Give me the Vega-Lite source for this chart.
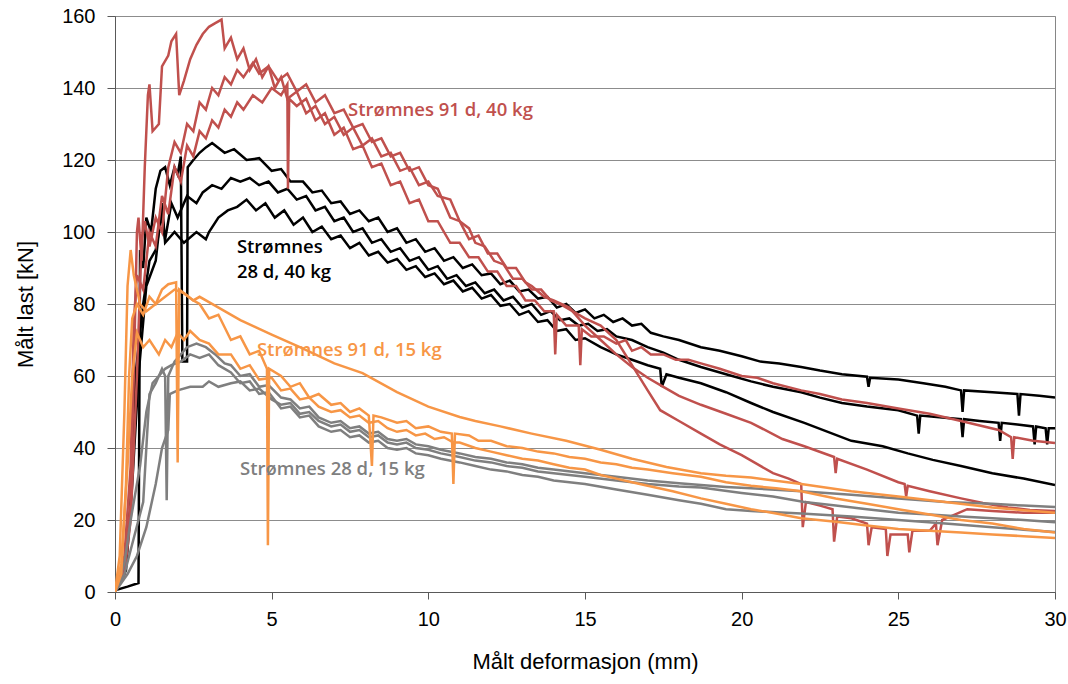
{
"$schema":"https://vega.github.io/schema/vega-lite/v6.json",
"width":940,"height":576,"autosize":"none",
"padding":{"left":115,"top":16,"right":13,"bottom":92},
"background":"white",
"config":{"view":{"stroke":"#868686","strokeWidth":1},
"axis":{"domainColor":"#595959","tickColor":"#595959","gridColor":"#8c8c8c","gridWidth":1,"labelFont":"Liberation Sans","labelFontSize":20,"labelColor":"#000000","titleFont":"Liberation Sans","titleFontSize":22,"titleFontWeight":"normal","titleColor":"#000000"}},
"layer":[
{"data":{"values":[
{"s":"B1","x":0,"y":0.5},{"s":"B1","x":0.4,"y":1.5},{"s":"B1","x":0.75,"y":2.5},{"s":"B1","x":0.8,"y":95},{"s":"B1","x":0.9,"y":90},{"s":"B1","x":1.0,"y":104},{"s":"B1","x":1.15,"y":100},{"s":"B1","x":1.3,"y":112},{"s":"B1","x":1.45,"y":117},{"s":"B1","x":1.6,"y":118},{"s":"B1","x":1.75,"y":113},{"s":"B1","x":1.9,"y":118},{"s":"B1","x":2.0,"y":116},{"s":"B1","x":2.1,"y":121},{"s":"B1","x":2.15,"y":64},{"s":"B1","x":2.3,"y":64},{"s":"B1","x":2.32,"y":118},{"s":"B1","x":2.5,"y":120},{"s":"B1","x":2.7,"y":122},{"s":"B1","x":2.9,"y":123.5},{"s":"B1","x":3.1,"y":124.7},{"s":"B1","x":3.5,"y":122},{"s":"B1","x":3.8,"y":123},{"s":"B1","x":4.2,"y":120},{"s":"B1","x":4.6,"y":120.5},{"s":"B1","x":5.0,"y":117},{"s":"B1","x":5.3,"y":117.5},{"s":"B1","x":5.6,"y":114},{"s":"B1","x":6.0,"y":114},{"s":"B1","x":6.3,"y":111},{"s":"B1","x":6.6,"y":111.5},{"s":"B1","x":6.9,"y":108},{"s":"B1","x":7.2,"y":108.5},{"s":"B1","x":7.5,"y":105},{"s":"B1","x":7.8,"y":106},{"s":"B1","x":8.1,"y":103},{"s":"B1","x":8.4,"y":104},{"s":"B1","x":8.7,"y":100},{"s":"B1","x":9.0,"y":101},{"s":"B1","x":9.3,"y":97},{"s":"B1","x":9.6,"y":98},{"s":"B1","x":9.9,"y":94.5},{"s":"B1","x":10.2,"y":95.5},{"s":"B1","x":10.5,"y":92},{"s":"B1","x":10.8,"y":93},{"s":"B1","x":11.1,"y":90},{"s":"B1","x":11.4,"y":91},{"s":"B1","x":11.7,"y":88},{"s":"B1","x":12.0,"y":88.5},{"s":"B1","x":12.3,"y":85.5},{"s":"B1","x":12.6,"y":86.5},{"s":"B1","x":12.9,"y":83.5},{"s":"B1","x":13.2,"y":84},{"s":"B1","x":13.5,"y":81.5},{"s":"B1","x":13.8,"y":82},{"s":"B1","x":14.1,"y":79},{"s":"B1","x":14.4,"y":80},{"s":"B1","x":14.7,"y":77.5},{"s":"B1","x":15.0,"y":78.5},{"s":"B1","x":15.3,"y":76},{"s":"B1","x":15.6,"y":77},{"s":"B1","x":15.9,"y":75},{"s":"B1","x":16.2,"y":76},{"s":"B1","x":16.5,"y":74},{"s":"B1","x":16.8,"y":74.5},{"s":"B1","x":17.1,"y":72},{"s":"B1","x":17.5,"y":71},{"s":"B1","x":18.0,"y":70},{"s":"B1","x":18.7,"y":68},{"s":"B1","x":19.3,"y":67},{"s":"B1","x":20.0,"y":65.5},{"s":"B1","x":20.6,"y":64},{"s":"B1","x":21.2,"y":63.5},{"s":"B1","x":21.9,"y":62.5},{"s":"B1","x":22.5,"y":61.5},{"s":"B1","x":23.2,"y":60.5},{"s":"B1","x":24.0,"y":59.8},{"s":"B1","x":24.05,"y":57},{"s":"B1","x":24.1,"y":59.5},{"s":"B1","x":25.0,"y":59},{"s":"B1","x":25.8,"y":58},{"s":"B1","x":26.5,"y":57},{"s":"B1","x":27.0,"y":56},{"s":"B1","x":27.05,"y":50},{"s":"B1","x":27.1,"y":56},{"s":"B1","x":28.0,"y":55.5},{"s":"B1","x":28.8,"y":55},{"s":"B1","x":28.85,"y":49},{"s":"B1","x":28.9,"y":55},{"s":"B1","x":29.5,"y":54.5},{"s":"B1","x":30.0,"y":54},
{"s":"B2","x":0,"y":0},{"s":"B2","x":0.3,"y":5},{"s":"B2","x":0.5,"y":25},{"s":"B2","x":0.65,"y":60},{"s":"B2","x":0.9,"y":80},{"s":"B2","x":1.1,"y":92},{"s":"B2","x":1.3,"y":95},{"s":"B2","x":1.5,"y":105},{"s":"B2","x":1.6,"y":98},{"s":"B2","x":1.8,"y":108},{"s":"B2","x":2.0,"y":104},{"s":"B2","x":2.3,"y":110},{"s":"B2","x":2.6,"y":108},{"s":"B2","x":2.8,"y":111},{"s":"B2","x":3.1,"y":113},{"s":"B2","x":3.4,"y":112},{"s":"B2","x":3.7,"y":115},{"s":"B2","x":4.0,"y":114},{"s":"B2","x":4.3,"y":115},{"s":"B2","x":4.6,"y":113},{"s":"B2","x":4.9,"y":114},{"s":"B2","x":5.2,"y":111},{"s":"B2","x":5.5,"y":112},{"s":"B2","x":5.8,"y":109},{"s":"B2","x":6.1,"y":110},{"s":"B2","x":6.4,"y":106},{"s":"B2","x":6.7,"y":107},{"s":"B2","x":7.0,"y":103},{"s":"B2","x":7.3,"y":104},{"s":"B2","x":7.6,"y":100},{"s":"B2","x":7.9,"y":101},{"s":"B2","x":8.2,"y":97},{"s":"B2","x":8.5,"y":98},{"s":"B2","x":8.8,"y":94.5},{"s":"B2","x":9.1,"y":95.5},{"s":"B2","x":9.4,"y":92},{"s":"B2","x":9.7,"y":93},{"s":"B2","x":10.0,"y":89.5},{"s":"B2","x":10.3,"y":90.5},{"s":"B2","x":10.6,"y":87},{"s":"B2","x":10.9,"y":88},{"s":"B2","x":11.2,"y":85},{"s":"B2","x":11.5,"y":86},{"s":"B2","x":11.8,"y":83},{"s":"B2","x":12.1,"y":84},{"s":"B2","x":12.4,"y":81},{"s":"B2","x":12.7,"y":82},{"s":"B2","x":13.0,"y":79},{"s":"B2","x":13.3,"y":80},{"s":"B2","x":13.6,"y":77},{"s":"B2","x":13.9,"y":78},{"s":"B2","x":14.2,"y":75.5},{"s":"B2","x":14.5,"y":76},{"s":"B2","x":14.8,"y":74},{"s":"B2","x":15.1,"y":74.5},{"s":"B2","x":15.4,"y":72.5},{"s":"B2","x":15.7,"y":73},{"s":"B2","x":16.0,"y":71},{"s":"B2","x":16.5,"y":70},{"s":"B2","x":17.0,"y":68},{"s":"B2","x":17.5,"y":66.5},{"s":"B2","x":18.0,"y":64.5},{"s":"B2","x":18.7,"y":62.5},{"s":"B2","x":19.5,"y":60.5},{"s":"B2","x":20.3,"y":58.5},{"s":"B2","x":21.0,"y":57},{"s":"B2","x":21.9,"y":55.5},{"s":"B2","x":22.5,"y":54},{"s":"B2","x":23.2,"y":52.5},{"s":"B2","x":24.0,"y":51.5},{"s":"B2","x":25.0,"y":50.5},{"s":"B2","x":25.6,"y":49},{"s":"B2","x":25.65,"y":44},{"s":"B2","x":25.7,"y":49},{"s":"B2","x":26.4,"y":48.5},{"s":"B2","x":27.0,"y":48},{"s":"B2","x":27.05,"y":43},{"s":"B2","x":27.1,"y":48},{"s":"B2","x":27.6,"y":47.5},{"s":"B2","x":28.2,"y":47},{"s":"B2","x":28.25,"y":42},{"s":"B2","x":28.3,"y":47},{"s":"B2","x":28.8,"y":46.5},{"s":"B2","x":29.3,"y":46},{"s":"B2","x":29.35,"y":41},{"s":"B2","x":29.4,"y":46},{"s":"B2","x":29.7,"y":45.5},{"s":"B2","x":29.75,"y":41},{"s":"B2","x":29.8,"y":45.5},{"s":"B2","x":30.0,"y":45.5},
{"s":"B3","x":0,"y":0},{"s":"B3","x":0.35,"y":6},{"s":"B3","x":0.55,"y":30},{"s":"B3","x":0.75,"y":60},{"s":"B3","x":1.0,"y":85},{"s":"B3","x":1.3,"y":92},{"s":"B3","x":1.5,"y":108},{"s":"B3","x":1.6,"y":97},{"s":"B3","x":1.9,"y":100},{"s":"B3","x":2.2,"y":97},{"s":"B3","x":2.6,"y":100},{"s":"B3","x":2.9,"y":98},{"s":"B3","x":3.0,"y":100},{"s":"B3","x":3.3,"y":104},{"s":"B3","x":3.6,"y":106},{"s":"B3","x":3.9,"y":107},{"s":"B3","x":4.2,"y":109},{"s":"B3","x":4.5,"y":106},{"s":"B3","x":4.8,"y":108},{"s":"B3","x":5.1,"y":104},{"s":"B3","x":5.4,"y":106},{"s":"B3","x":5.7,"y":102},{"s":"B3","x":6.0,"y":104},{"s":"B3","x":6.3,"y":100},{"s":"B3","x":6.6,"y":101.5},{"s":"B3","x":6.9,"y":98},{"s":"B3","x":7.2,"y":99},{"s":"B3","x":7.5,"y":95.5},{"s":"B3","x":7.8,"y":97},{"s":"B3","x":8.1,"y":93.5},{"s":"B3","x":8.4,"y":94.5},{"s":"B3","x":8.7,"y":91.5},{"s":"B3","x":9.0,"y":92.5},{"s":"B3","x":9.3,"y":89.5},{"s":"B3","x":9.6,"y":90.5},{"s":"B3","x":9.9,"y":87.5},{"s":"B3","x":10.2,"y":88.5},{"s":"B3","x":10.5,"y":85.5},{"s":"B3","x":10.8,"y":86.5},{"s":"B3","x":11.1,"y":83.5},{"s":"B3","x":11.4,"y":84.5},{"s":"B3","x":11.7,"y":81.5},{"s":"B3","x":12.0,"y":82.5},{"s":"B3","x":12.3,"y":79.5},{"s":"B3","x":12.6,"y":80},{"s":"B3","x":12.9,"y":77},{"s":"B3","x":13.2,"y":78},{"s":"B3","x":13.5,"y":75},{"s":"B3","x":13.8,"y":75.5},{"s":"B3","x":14.1,"y":72.5},{"s":"B3","x":14.4,"y":73},{"s":"B3","x":14.7,"y":70},{"s":"B3","x":15.0,"y":70.5},{"s":"B3","x":15.5,"y":68},{"s":"B3","x":16.0,"y":66},{"s":"B3","x":16.5,"y":64.5},{"s":"B3","x":17.0,"y":63},{"s":"B3","x":17.4,"y":62},{"s":"B3","x":17.45,"y":57},{"s":"B3","x":17.6,"y":60.5},{"s":"B3","x":18.0,"y":59.5},{"s":"B3","x":18.7,"y":58},{"s":"B3","x":19.5,"y":55.5},{"s":"B3","x":20.3,"y":52.5},{"s":"B3","x":21.0,"y":50},{"s":"B3","x":22.0,"y":47},{"s":"B3","x":23.5,"y":42},{"s":"B3","x":24.5,"y":40.5},{"s":"B3","x":25.3,"y":38.5},{"s":"B3","x":26.1,"y":36.7},{"s":"B3","x":27.0,"y":35},{"s":"B3","x":28.0,"y":33},{"s":"B3","x":29.0,"y":31.5},{"s":"B3","x":30.0,"y":29.7},
{"s":"R1","x":0,"y":0},{"s":"R1","x":0.3,"y":6},{"s":"R1","x":0.5,"y":25},{"s":"R1","x":0.6,"y":60},{"s":"R1","x":0.7,"y":100},{"s":"R1","x":0.75,"y":104},{"s":"R1","x":0.85,"y":92},{"s":"R1","x":0.95,"y":118},{"s":"R1","x":1.05,"y":138},{"s":"R1","x":1.1,"y":141},{"s":"R1","x":1.2,"y":128},{"s":"R1","x":1.4,"y":130},{"s":"R1","x":1.5,"y":146},{"s":"R1","x":1.7,"y":149},{"s":"R1","x":1.8,"y":153},{"s":"R1","x":1.95,"y":155},{"s":"R1","x":2.05,"y":138},{"s":"R1","x":2.2,"y":142},{"s":"R1","x":2.4,"y":148},{"s":"R1","x":2.6,"y":152},{"s":"R1","x":2.8,"y":155},{"s":"R1","x":3.0,"y":157},{"s":"R1","x":3.2,"y":158},{"s":"R1","x":3.4,"y":159},{"s":"R1","x":3.5,"y":151},{"s":"R1","x":3.7,"y":154},{"s":"R1","x":3.9,"y":148},{"s":"R1","x":4.1,"y":151},{"s":"R1","x":4.3,"y":145},{"s":"R1","x":4.5,"y":148},{"s":"R1","x":4.7,"y":143},{"s":"R1","x":4.9,"y":146},{"s":"R1","x":5.1,"y":140},{"s":"R1","x":5.3,"y":143},{"s":"R1","x":5.5,"y":137},{"s":"R1","x":5.8,"y":139},{"s":"R1","x":6.1,"y":133},{"s":"R1","x":6.4,"y":135},{"s":"R1","x":6.7,"y":130},{"s":"R1","x":7.0,"y":132},{"s":"R1","x":7.3,"y":127},{"s":"R1","x":7.6,"y":129},{"s":"R1","x":7.9,"y":124},{"s":"R1","x":8.2,"y":126},{"s":"R1","x":8.5,"y":121},{"s":"R1","x":8.8,"y":122},{"s":"R1","x":9.1,"y":117},{"s":"R1","x":9.4,"y":118},{"s":"R1","x":9.7,"y":113},{"s":"R1","x":10.0,"y":114},{"s":"R1","x":10.3,"y":110},{"s":"R1","x":10.7,"y":109},{"s":"R1","x":11.0,"y":103},{"s":"R1","x":11.3,"y":101},{"s":"R1","x":11.5,"y":97},{"s":"R1","x":11.8,"y":96},{"s":"R1","x":12.1,"y":92},{"s":"R1","x":12.4,"y":91},{"s":"R1","x":12.7,"y":87},{"s":"R1","x":13.0,"y":87},{"s":"R1","x":13.3,"y":84},{"s":"R1","x":13.6,"y":84},{"s":"R1","x":13.9,"y":81},{"s":"R1","x":14.2,"y":80},{"s":"R1","x":14.6,"y":78},{"s":"R1","x":15.0,"y":76},{"s":"R1","x":15.5,"y":74},{"s":"R1","x":16.0,"y":70},{"s":"R1","x":16.5,"y":63},{"s":"R1","x":17.0,"y":56},{"s":"R1","x":17.4,"y":50.5},{"s":"R1","x":18.0,"y":47.5},{"s":"R1","x":18.7,"y":44},{"s":"R1","x":19.3,"y":41},{"s":"R1","x":20.0,"y":38},{"s":"R1","x":20.5,"y":35.5},{"s":"R1","x":21.0,"y":33},{"s":"R1","x":21.5,"y":31.5},{"s":"R1","x":21.9,"y":30},{"s":"R1","x":21.95,"y":18},{"s":"R1","x":22.05,"y":25},{"s":"R1","x":22.5,"y":24},{"s":"R1","x":22.9,"y":23},{"s":"R1","x":22.95,"y":14},{"s":"R1","x":23.05,"y":21},{"s":"R1","x":23.5,"y":20.5},{"s":"R1","x":24.0,"y":19},{"s":"R1","x":24.05,"y":13},{"s":"R1","x":24.15,"y":18},{"s":"R1","x":24.6,"y":17.5},{"s":"R1","x":24.65,"y":10},{"s":"R1","x":24.75,"y":16},{"s":"R1","x":25.3,"y":16},{"s":"R1","x":25.35,"y":11},{"s":"R1","x":25.45,"y":17},{"s":"R1","x":26.0,"y":17},{"s":"R1","x":26.2,"y":19},{"s":"R1","x":26.25,"y":13},{"s":"R1","x":26.4,"y":20},{"s":"R1","x":26.8,"y":21.5},{"s":"R1","x":27.2,"y":23},{"s":"R1","x":28.0,"y":22.5},{"s":"R1","x":29.0,"y":22},{"s":"R1","x":30.0,"y":22},
{"s":"R2","x":0,"y":0},{"s":"R2","x":0.3,"y":5},{"s":"R2","x":0.5,"y":20},{"s":"R2","x":0.7,"y":60},{"s":"R2","x":0.85,"y":98},{"s":"R2","x":0.95,"y":103},{"s":"R2","x":1.1,"y":96},{"s":"R2","x":1.3,"y":104},{"s":"R2","x":1.5,"y":100},{"s":"R2","x":1.7,"y":118},{"s":"R2","x":1.9,"y":125},{"s":"R2","x":2.1,"y":122},{"s":"R2","x":2.3,"y":130},{"s":"R2","x":2.5,"y":128},{"s":"R2","x":2.7,"y":136},{"s":"R2","x":2.9,"y":134},{"s":"R2","x":3.1,"y":140},{"s":"R2","x":3.3,"y":138},{"s":"R2","x":3.5,"y":143},{"s":"R2","x":3.7,"y":141},{"s":"R2","x":3.9,"y":145},{"s":"R2","x":4.1,"y":143},{"s":"R2","x":4.4,"y":147},{"s":"R2","x":4.6,"y":144},{"s":"R2","x":4.9,"y":146},{"s":"R2","x":5.2,"y":142},{"s":"R2","x":5.5,"y":144},{"s":"R2","x":5.8,"y":139},{"s":"R2","x":6.1,"y":141},{"s":"R2","x":6.4,"y":136},{"s":"R2","x":6.7,"y":138},{"s":"R2","x":7.0,"y":133},{"s":"R2","x":7.3,"y":134},{"s":"R2","x":7.6,"y":129},{"s":"R2","x":7.9,"y":130},{"s":"R2","x":8.2,"y":125},{"s":"R2","x":8.5,"y":126},{"s":"R2","x":8.8,"y":121},{"s":"R2","x":9.1,"y":122},{"s":"R2","x":9.4,"y":117},{"s":"R2","x":9.7,"y":118},{"s":"R2","x":10.0,"y":113},{"s":"R2","x":10.3,"y":112},{"s":"R2","x":10.7,"y":104},{"s":"R2","x":11.0,"y":103},{"s":"R2","x":11.3,"y":98},{"s":"R2","x":11.6,"y":99},{"s":"R2","x":11.9,"y":94},{"s":"R2","x":12.2,"y":94},{"s":"R2","x":12.5,"y":90},{"s":"R2","x":12.8,"y":90},{"s":"R2","x":13.1,"y":86},{"s":"R2","x":13.3,"y":85},{"s":"R2","x":13.7,"y":82},{"s":"R2","x":14.0,"y":81},{"s":"R2","x":14.5,"y":79},{"s":"R2","x":15.0,"y":74},{"s":"R2","x":15.5,"y":70},{"s":"R2","x":16.0,"y":66},{"s":"R2","x":16.5,"y":62.5},{"s":"R2","x":17.0,"y":59.5},{"s":"R2","x":17.5,"y":57},{"s":"R2","x":18.0,"y":54.5},{"s":"R2","x":18.7,"y":52},{"s":"R2","x":19.5,"y":49.5},{"s":"R2","x":20.3,"y":47},{"s":"R2","x":21.3,"y":42.5},{"s":"R2","x":22.0,"y":40.5},{"s":"R2","x":22.95,"y":37.5},{"s":"R2","x":23.0,"y":33},{"s":"R2","x":23.05,"y":37},{"s":"R2","x":24.0,"y":34},{"s":"R2","x":25.0,"y":30.5},{"s":"R2","x":25.2,"y":30},{"s":"R2","x":25.25,"y":26.5},{"s":"R2","x":25.3,"y":29.5},{"s":"R2","x":26.0,"y":28},{"s":"R2","x":27.0,"y":26},{"s":"R2","x":27.7,"y":24.7},{"s":"R2","x":28.5,"y":23.5},{"s":"R2","x":29.2,"y":22.8},{"s":"R2","x":30.0,"y":22.5},
{"s":"R3","x":0,"y":0},{"s":"R3","x":0.3,"y":10},{"s":"R3","x":0.5,"y":35},{"s":"R3","x":0.6,"y":75},{"s":"R3","x":0.7,"y":88},{"s":"R3","x":0.9,"y":84},{"s":"R3","x":1.1,"y":100},{"s":"R3","x":1.3,"y":96},{"s":"R3","x":1.5,"y":110},{"s":"R3","x":1.7,"y":105},{"s":"R3","x":1.9,"y":118},{"s":"R3","x":2.1,"y":114},{"s":"R3","x":2.3,"y":124},{"s":"R3","x":2.5,"y":121},{"s":"R3","x":2.7,"y":128},{"s":"R3","x":2.9,"y":126},{"s":"R3","x":3.1,"y":131},{"s":"R3","x":3.3,"y":129},{"s":"R3","x":3.5,"y":134},{"s":"R3","x":3.7,"y":132},{"s":"R3","x":3.9,"y":136},{"s":"R3","x":4.1,"y":134},{"s":"R3","x":4.4,"y":138},{"s":"R3","x":4.7,"y":136},{"s":"R3","x":5.0,"y":140},{"s":"R3","x":5.3,"y":138},{"s":"R3","x":5.5,"y":141},{"s":"R3","x":5.52,"y":112},{"s":"R3","x":5.56,"y":137},{"s":"R3","x":5.8,"y":135},{"s":"R3","x":6.1,"y":137},{"s":"R3","x":6.4,"y":131},{"s":"R3","x":6.7,"y":133},{"s":"R3","x":7.0,"y":127},{"s":"R3","x":7.3,"y":129},{"s":"R3","x":7.6,"y":123},{"s":"R3","x":7.9,"y":124},{"s":"R3","x":8.2,"y":118},{"s":"R3","x":8.5,"y":119},{"s":"R3","x":8.8,"y":113},{"s":"R3","x":9.1,"y":114},{"s":"R3","x":9.4,"y":108},{"s":"R3","x":9.7,"y":109},{"s":"R3","x":10.0,"y":103},{"s":"R3","x":10.3,"y":103},{"s":"R3","x":10.7,"y":97},{"s":"R3","x":11.0,"y":97},{"s":"R3","x":11.3,"y":93},{"s":"R3","x":11.6,"y":93},{"s":"R3","x":11.9,"y":89},{"s":"R3","x":12.2,"y":89},{"s":"R3","x":12.5,"y":85},{"s":"R3","x":12.8,"y":85},{"s":"R3","x":13.1,"y":81},{"s":"R3","x":13.4,"y":81},{"s":"R3","x":13.7,"y":78},{"s":"R3","x":14.0,"y":78},{"s":"R3","x":14.05,"y":66},{"s":"R3","x":14.1,"y":77},{"s":"R3","x":14.4,"y":74},{"s":"R3","x":14.8,"y":74},{"s":"R3","x":14.85,"y":63},{"s":"R3","x":14.9,"y":73},{"s":"R3","x":15.2,"y":71},{"s":"R3","x":15.6,"y":71},{"s":"R3","x":16.0,"y":69},{"s":"R3","x":16.3,"y":70},{"s":"R3","x":16.5,"y":67},{"s":"R3","x":16.8,"y":68},{"s":"R3","x":17.1,"y":66},{"s":"R3","x":17.5,"y":66},{"s":"R3","x":17.9,"y":64.5},{"s":"R3","x":18.3,"y":64.5},{"s":"R3","x":18.7,"y":63.5},{"s":"R3","x":19.3,"y":62},{"s":"R3","x":20.0,"y":60},{"s":"R3","x":20.5,"y":59.5},{"s":"R3","x":21.0,"y":58},{"s":"R3","x":21.9,"y":56},{"s":"R3","x":22.5,"y":55},{"s":"R3","x":23.2,"y":53.5},{"s":"R3","x":24.0,"y":52.5},{"s":"R3","x":25.0,"y":51},{"s":"R3","x":26.0,"y":49.5},{"s":"R3","x":27.0,"y":47.5},{"s":"R3","x":28.2,"y":45},{"s":"R3","x":28.6,"y":43},{"s":"R3","x":28.65,"y":37},{"s":"R3","x":28.7,"y":43},{"s":"R3","x":29.3,"y":42},{"s":"R3","x":30.0,"y":41.4},
{"s":"G1","x":0,"y":0},{"s":"G1","x":0.3,"y":5},{"s":"G1","x":0.6,"y":15},{"s":"G1","x":0.9,"y":25},{"s":"G1","x":1.0,"y":40},{"s":"G1","x":1.1,"y":55},{"s":"G1","x":1.3,"y":58},{"s":"G1","x":1.5,"y":62},{"s":"G1","x":1.6,"y":60},{"s":"G1","x":1.65,"y":25.5},{"s":"G1","x":1.7,"y":60},{"s":"G1","x":1.9,"y":64},{"s":"G1","x":2.1,"y":66},{"s":"G1","x":2.3,"y":68},{"s":"G1","x":2.6,"y":69},{"s":"G1","x":2.9,"y":68},{"s":"G1","x":3.2,"y":66},{"s":"G1","x":3.5,"y":63.5},{"s":"G1","x":3.7,"y":63},{"s":"G1","x":4.0,"y":60},{"s":"G1","x":4.3,"y":60.5},{"s":"G1","x":4.6,"y":57},{"s":"G1","x":4.9,"y":57.5},{"s":"G1","x":5.3,"y":54},{"s":"G1","x":5.6,"y":53.5},{"s":"G1","x":5.9,"y":51},{"s":"G1","x":6.2,"y":51.5},{"s":"G1","x":6.5,"y":48.5},{"s":"G1","x":6.9,"y":47},{"s":"G1","x":7.2,"y":47.5},{"s":"G1","x":7.5,"y":45.5},{"s":"G1","x":7.8,"y":46},{"s":"G1","x":8.1,"y":44},{"s":"G1","x":8.4,"y":44.5},{"s":"G1","x":8.7,"y":42.5},{"s":"G1","x":9.0,"y":42},{"s":"G1","x":9.3,"y":42.5},{"s":"G1","x":9.6,"y":41},{"s":"G1","x":10.0,"y":40.5},{"s":"G1","x":10.4,"y":39.5},{"s":"G1","x":11.0,"y":38.5},{"s":"G1","x":11.5,"y":37.5},{"s":"G1","x":12.0,"y":37},{"s":"G1","x":12.5,"y":36},{"s":"G1","x":13.0,"y":35.5},{"s":"G1","x":13.5,"y":34.5},{"s":"G1","x":14.0,"y":34},{"s":"G1","x":15.0,"y":33},{"s":"G1","x":16.0,"y":32},{"s":"G1","x":17.0,"y":31},{"s":"G1","x":18.0,"y":30.2},{"s":"G1","x":18.7,"y":29.7},{"s":"G1","x":19.5,"y":29.2},{"s":"G1","x":20.3,"y":28.8},{"s":"G1","x":21.9,"y":28},{"s":"G1","x":23.5,"y":27},{"s":"G1","x":25.0,"y":26},{"s":"G1","x":26.5,"y":25},{"s":"G1","x":28.0,"y":24.5},{"s":"G1","x":29.0,"y":24},{"s":"G1","x":30.0,"y":23.6},
{"s":"G2","x":0,"y":0},{"s":"G2","x":0.4,"y":5},{"s":"G2","x":0.7,"y":10},{"s":"G2","x":1.0,"y":18},{"s":"G2","x":1.3,"y":30},{"s":"G2","x":1.5,"y":40},{"s":"G2","x":1.7,"y":45},{"s":"G2","x":1.75,"y":55},{"s":"G2","x":2.0,"y":56},{"s":"G2","x":2.4,"y":57},{"s":"G2","x":2.8,"y":57},{"s":"G2","x":3.0,"y":58.5},{"s":"G2","x":3.3,"y":57},{"s":"G2","x":3.7,"y":58},{"s":"G2","x":4.0,"y":58.5},{"s":"G2","x":4.3,"y":56},{"s":"G2","x":4.6,"y":56.5},{"s":"G2","x":5.0,"y":53.5},{"s":"G2","x":5.3,"y":52},{"s":"G2","x":5.6,"y":52.5},{"s":"G2","x":5.9,"y":49.5},{"s":"G2","x":6.2,"y":50},{"s":"G2","x":6.5,"y":47.5},{"s":"G2","x":6.9,"y":46},{"s":"G2","x":7.2,"y":46.5},{"s":"G2","x":7.5,"y":44.5},{"s":"G2","x":7.8,"y":45},{"s":"G2","x":8.1,"y":43},{"s":"G2","x":8.4,"y":43.5},{"s":"G2","x":8.7,"y":41.5},{"s":"G2","x":9.0,"y":41},{"s":"G2","x":9.3,"y":41.5},{"s":"G2","x":9.6,"y":40},{"s":"G2","x":10.0,"y":39.5},{"s":"G2","x":10.4,"y":38.5},{"s":"G2","x":11.0,"y":37.5},{"s":"G2","x":11.5,"y":36.5},{"s":"G2","x":12.0,"y":36},{"s":"G2","x":12.5,"y":35},{"s":"G2","x":13.0,"y":34.5},{"s":"G2","x":13.5,"y":33.5},{"s":"G2","x":14.0,"y":33},{"s":"G2","x":15.0,"y":32},{"s":"G2","x":16.0,"y":31},{"s":"G2","x":17.0,"y":30},{"s":"G2","x":18.0,"y":29.3},{"s":"G2","x":18.7,"y":29},{"s":"G2","x":20.0,"y":27.5},{"s":"G2","x":21.0,"y":26.5},{"s":"G2","x":22.0,"y":25},{"s":"G2","x":23.0,"y":24},{"s":"G2","x":24.0,"y":23},{"s":"G2","x":25.0,"y":22},{"s":"G2","x":26.0,"y":21.5},{"s":"G2","x":27.0,"y":21},{"s":"G2","x":28.0,"y":20.5},{"s":"G2","x":29.0,"y":20},{"s":"G2","x":30.0,"y":19.4},
{"s":"G3","x":0,"y":0},{"s":"G3","x":0.3,"y":8},{"s":"G3","x":0.5,"y":20},{"s":"G3","x":0.8,"y":35},{"s":"G3","x":1.0,"y":50},{"s":"G3","x":1.2,"y":58},{"s":"G3","x":1.4,"y":60},{"s":"G3","x":1.6,"y":62},{"s":"G3","x":1.8,"y":63},{"s":"G3","x":2.1,"y":64},{"s":"G3","x":2.4,"y":66},{"s":"G3","x":2.7,"y":65},{"s":"G3","x":3.0,"y":66},{"s":"G3","x":3.3,"y":63},{"s":"G3","x":3.7,"y":61},{"s":"G3","x":4.0,"y":58},{"s":"G3","x":4.3,"y":58.5},{"s":"G3","x":4.6,"y":55},{"s":"G3","x":4.9,"y":55.5},{"s":"G3","x":5.3,"y":51},{"s":"G3","x":5.6,"y":51.5},{"s":"G3","x":5.9,"y":48.5},{"s":"G3","x":6.2,"y":49},{"s":"G3","x":6.5,"y":46},{"s":"G3","x":6.9,"y":44.5},{"s":"G3","x":7.2,"y":45},{"s":"G3","x":7.5,"y":43},{"s":"G3","x":7.8,"y":43.5},{"s":"G3","x":8.1,"y":41.5},{"s":"G3","x":8.4,"y":42},{"s":"G3","x":8.7,"y":40},{"s":"G3","x":9.0,"y":39.5},{"s":"G3","x":9.3,"y":40},{"s":"G3","x":9.6,"y":38.5},{"s":"G3","x":10.0,"y":38},{"s":"G3","x":10.4,"y":37},{"s":"G3","x":11.0,"y":36},{"s":"G3","x":11.5,"y":35},{"s":"G3","x":12.0,"y":34},{"s":"G3","x":12.5,"y":33.5},{"s":"G3","x":13.0,"y":32.5},{"s":"G3","x":13.5,"y":32},{"s":"G3","x":14.0,"y":31},{"s":"G3","x":15.0,"y":30},{"s":"G3","x":16.0,"y":28.5},{"s":"G3","x":17.0,"y":27},{"s":"G3","x":18.0,"y":25.5},{"s":"G3","x":18.7,"y":24.5},{"s":"G3","x":19.5,"y":23},{"s":"G3","x":20.3,"y":22.5},{"s":"G3","x":21.9,"y":21.8},{"s":"G3","x":23.5,"y":21},{"s":"G3","x":25.0,"y":20},{"s":"G3","x":26.5,"y":19},{"s":"G3","x":28.0,"y":18},{"s":"G3","x":29.0,"y":17.3},{"s":"G3","x":30.0,"y":16.7},
{"s":"O1","x":0,"y":0},{"s":"O1","x":0.2,"y":5},{"s":"O1","x":0.35,"y":30},{"s":"O1","x":0.45,"y":60},{"s":"O1","x":0.55,"y":76},{"s":"O1","x":0.7,"y":80},{"s":"O1","x":0.9,"y":77},{"s":"O1","x":1.1,"y":82},{"s":"O1","x":1.3,"y":80},{"s":"O1","x":1.5,"y":84},{"s":"O1","x":1.7,"y":85.5},{"s":"O1","x":1.95,"y":86},{"s":"O1","x":2.0,"y":36},{"s":"O1","x":2.05,"y":84},{"s":"O1","x":2.2,"y":83},{"s":"O1","x":2.5,"y":81},{"s":"O1","x":2.7,"y":82},{"s":"O1","x":3.0,"y":80.5},{"s":"O1","x":3.5,"y":78},{"s":"O1","x":4.0,"y":75.5},{"s":"O1","x":4.5,"y":73.5},{"s":"O1","x":5.0,"y":71.5},{"s":"O1","x":5.9,"y":68},{"s":"O1","x":7.0,"y":63.5},{"s":"O1","x":7.9,"y":60.8},{"s":"O1","x":9.0,"y":55.5},{"s":"O1","x":10.0,"y":51.5},{"s":"O1","x":11.0,"y":48.6},{"s":"O1","x":11.5,"y":47.5},{"s":"O1","x":12.3,"y":46},{"s":"O1","x":13.3,"y":44},{"s":"O1","x":14.4,"y":42},{"s":"O1","x":15.5,"y":39.5},{"s":"O1","x":16.5,"y":37},{"s":"O1","x":17.6,"y":34.7},{"s":"O1","x":18.7,"y":33},{"s":"O1","x":19.5,"y":32.3},{"s":"O1","x":20.3,"y":31.8},{"s":"O1","x":21.9,"y":30},{"s":"O1","x":23.5,"y":28},{"s":"O1","x":25.0,"y":26.5},{"s":"O1","x":26.5,"y":25},{"s":"O1","x":28.0,"y":23.5},{"s":"O1","x":29.0,"y":22.7},{"s":"O1","x":30.0,"y":22},
{"s":"O2","x":0,"y":0},{"s":"O2","x":0.15,"y":10},{"s":"O2","x":0.3,"y":50},{"s":"O2","x":0.4,"y":85},{"s":"O2","x":0.5,"y":95},{"s":"O2","x":0.6,"y":88},{"s":"O2","x":0.8,"y":80},{"s":"O2","x":1.0,"y":78},{"s":"O2","x":1.3,"y":80},{"s":"O2","x":1.6,"y":82},{"s":"O2","x":1.9,"y":84},{"s":"O2","x":2.2,"y":83},{"s":"O2","x":2.5,"y":81},{"s":"O2","x":2.7,"y":80},{"s":"O2","x":3.0,"y":76},{"s":"O2","x":3.3,"y":77},{"s":"O2","x":3.7,"y":70},{"s":"O2","x":4.0,"y":71},{"s":"O2","x":4.3,"y":66},{"s":"O2","x":4.6,"y":67},{"s":"O2","x":4.85,"y":62},{"s":"O2","x":4.88,"y":13},{"s":"O2","x":4.92,"y":62},{"s":"O2","x":5.3,"y":60},{"s":"O2","x":5.6,"y":57},{"s":"O2","x":5.9,"y":58},{"s":"O2","x":6.2,"y":54},{"s":"O2","x":6.5,"y":55},{"s":"O2","x":6.9,"y":52},{"s":"O2","x":7.2,"y":52.5},{"s":"O2","x":7.5,"y":50},{"s":"O2","x":7.8,"y":51},{"s":"O2","x":8.1,"y":49},{"s":"O2","x":8.2,"y":35},{"s":"O2","x":8.25,"y":49},{"s":"O2","x":8.5,"y":48.5},{"s":"O2","x":9.0,"y":47},{"s":"O2","x":9.3,"y":47.5},{"s":"O2","x":9.6,"y":45.5},{"s":"O2","x":10.0,"y":46},{"s":"O2","x":10.4,"y":44.5},{"s":"O2","x":10.75,"y":44},{"s":"O2","x":10.8,"y":30},{"s":"O2","x":10.85,"y":44},{"s":"O2","x":11.3,"y":43.5},{"s":"O2","x":11.6,"y":42},{"s":"O2","x":12.0,"y":42},{"s":"O2","x":12.5,"y":40.5},{"s":"O2","x":13.0,"y":40},{"s":"O2","x":13.5,"y":39},{"s":"O2","x":14.0,"y":38.5},{"s":"O2","x":14.5,"y":37.5},{"s":"O2","x":15.0,"y":37},{"s":"O2","x":15.5,"y":36},{"s":"O2","x":16.0,"y":35.5},{"s":"O2","x":16.5,"y":34.5},{"s":"O2","x":17.0,"y":34},{"s":"O2","x":17.8,"y":33},{"s":"O2","x":18.7,"y":32},{"s":"O2","x":19.5,"y":30.5},{"s":"O2","x":20.3,"y":29.5},{"s":"O2","x":21.1,"y":28.8},{"s":"O2","x":21.9,"y":28},{"s":"O2","x":23.0,"y":26},{"s":"O2","x":24.0,"y":24.5},{"s":"O2","x":25.0,"y":23},{"s":"O2","x":26.0,"y":21.5},{"s":"O2","x":27.0,"y":20},{"s":"O2","x":28.0,"y":19},{"s":"O2","x":29.0,"y":17.5},{"s":"O2","x":30.0,"y":16.5},
{"s":"O3","x":0,"y":0},{"s":"O3","x":0.2,"y":8},{"s":"O3","x":0.4,"y":35},{"s":"O3","x":0.55,"y":60},{"s":"O3","x":0.7,"y":72},{"s":"O3","x":0.9,"y":68},{"s":"O3","x":1.1,"y":70},{"s":"O3","x":1.4,"y":66},{"s":"O3","x":1.6,"y":70},{"s":"O3","x":1.8,"y":68},{"s":"O3","x":2.0,"y":72},{"s":"O3","x":2.2,"y":70},{"s":"O3","x":2.4,"y":72.5},{"s":"O3","x":2.7,"y":70},{"s":"O3","x":3.0,"y":69},{"s":"O3","x":3.3,"y":66},{"s":"O3","x":3.7,"y":66},{"s":"O3","x":4.0,"y":62},{"s":"O3","x":4.3,"y":63},{"s":"O3","x":4.6,"y":59},{"s":"O3","x":5.0,"y":59.5},{"s":"O3","x":5.3,"y":56},{"s":"O3","x":5.6,"y":56.5},{"s":"O3","x":5.9,"y":53.5},{"s":"O3","x":6.2,"y":54},{"s":"O3","x":6.5,"y":51.5},{"s":"O3","x":6.9,"y":50},{"s":"O3","x":7.2,"y":50.5},{"s":"O3","x":7.5,"y":48.5},{"s":"O3","x":7.8,"y":49},{"s":"O3","x":8.1,"y":47},{"s":"O3","x":8.4,"y":47.5},{"s":"O3","x":8.7,"y":45.5},{"s":"O3","x":9.0,"y":44.5},{"s":"O3","x":9.3,"y":45},{"s":"O3","x":9.6,"y":43.5},{"s":"O3","x":9.9,"y":44},{"s":"O3","x":10.2,"y":42.5},{"s":"O3","x":10.5,"y":43},{"s":"O3","x":10.8,"y":41.5},{"s":"O3","x":11.0,"y":41.5},{"s":"O3","x":11.5,"y":40},{"s":"O3","x":12.0,"y":39},{"s":"O3","x":12.5,"y":38},{"s":"O3","x":13.0,"y":37},{"s":"O3","x":13.5,"y":36.5},{"s":"O3","x":14.0,"y":35.5},{"s":"O3","x":14.5,"y":34.5},{"s":"O3","x":15.0,"y":34},{"s":"O3","x":15.5,"y":32.5},{"s":"O3","x":16.0,"y":31.5},{"s":"O3","x":16.5,"y":30.5},{"s":"O3","x":17.0,"y":29.5},{"s":"O3","x":17.8,"y":28},{"s":"O3","x":18.7,"y":26},{"s":"O3","x":19.5,"y":24.5},{"s":"O3","x":20.3,"y":23},{"s":"O3","x":21.1,"y":21.8},{"s":"O3","x":21.9,"y":20.5},{"s":"O3","x":23.0,"y":19.5},{"s":"O3","x":24.0,"y":18.5},{"s":"O3","x":25.0,"y":17.5},{"s":"O3","x":26.0,"y":17},{"s":"O3","x":27.0,"y":16.5},{"s":"O3","x":28.0,"y":16},{"s":"O3","x":29.0,"y":15.5},{"s":"O3","x":30.0,"y":15}
]},
"mark":{"type":"line","strokeWidth":2.5,"strokeJoin":"miter","clip":true},
"encoding":{
"x":{"field":"x","type":"quantitative","scale":{"domain":[0,30],"nice":false,"zero":false},
"axis":{"title":"Målt deformasjon (mm)","values":[0,5,10,15,20,25,30],"grid":false,"tickSize":7,"labelPadding":10,"titlePadding":22,"labelFlush":false}},
"y":{"field":"y","type":"quantitative","scale":{"domain":[0,160],"nice":false},
"axis":{"title":"Målt last [kN]","values":[0,20,40,60,80,100,120,140,160],"grid":true,"tickSize":8,"labelPadding":12,"titlePadding":24,"labelFlush":false}},
"color":{"field":"s","type":"nominal","legend":null,
"scale":{"domain":["G1","G2","G3","O1","O2","O3","B1","B2","B3","R1","R2","R3"],
"range":["#7F7F7F","#7F7F7F","#7F7F7F","#F79646","#F79646","#F79646","#000000","#000000","#000000","#C0504D","#C0504D","#C0504D"]}}
}},
{"data":{"values":[
{"t":"Strømnes 91 d, 40 kg","x":7.44,"y":133.9},
{"t":"Strømnes","x":3.89,"y":95.8},
{"t":"28 d, 40 kg","x":3.89,"y":88.9},
{"t":"Strømnes 91 d, 15 kg","x":4.53,"y":67.2},
{"t":"Strømnes 28 d, 15 kg","x":3.99,"y":34.3}
]},
"mark":{"type":"text","align":"left","baseline":"middle","font":"Open Sans","fontSize":18.5,"fontWeight":600},
"encoding":{
"x":{"field":"x","type":"quantitative"},
"y":{"field":"y","type":"quantitative"},
"text":{"field":"t"},
"color":{"field":"t","type":"nominal","legend":null,
"scale":{"domain":["Strømnes 91 d, 40 kg","Strømnes","28 d, 40 kg","Strømnes 91 d, 15 kg","Strømnes 28 d, 15 kg"],
"range":["#C0504D","#000000","#000000","#F79646","#7F7F7F"]}}
}}
],
"resolve":{"scale":{"color":"independent"}}
}
